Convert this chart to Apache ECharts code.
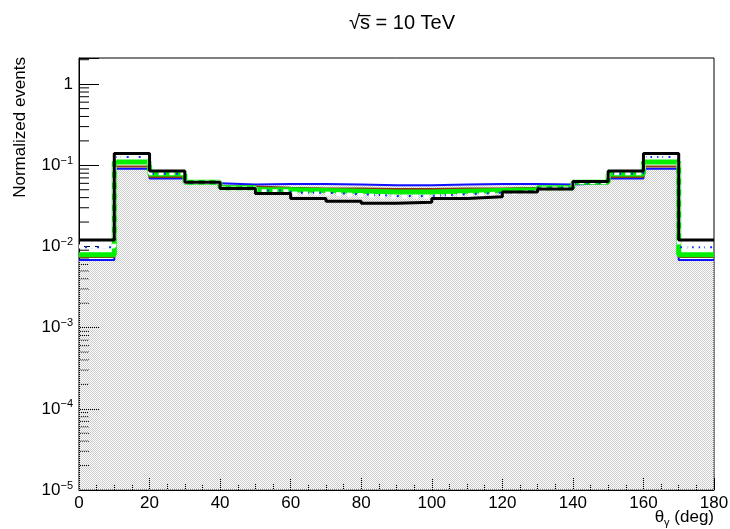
<!DOCTYPE html>
<html>
<head>
<meta charset="utf-8">
<script src="https://cdn.jsdelivr.net/npm/echarts@6/dist/echarts.min.js"></script>
<style>html,body{margin:0;padding:0;background:#fff;}#c{width:730px;height:529px;}</style>
</head>
<body>
<div id="c"></div>
<script>
// ---- data ----
const binLow = [0,10,20,30,40,50,60,70,80,90,100,110,120,130,140,150,160,170];
const binEnd = 180;
const blackVals = [0.012,0.14,0.085,0.062,0.052,0.045,0.039,0.036,0.034,0.035,0.039,0.041,0.047,0.051,0.063,0.085,0.14,0.012];
const fillVals  = [0.0068,0.091,0.069,0.060,0.058,0.059,0.059,0.058,0.057,0.057,0.058,0.059,0.059,0.058,0.060,0.069,0.091,0.0068];
const greenVals = [0.0079,0.11,0.078,0.062,0.053,0.050,0.049,0.048,0.047,0.047,0.048,0.049,0.050,0.053,0.062,0.078,0.11,0.0079];
const brownVals = [0.0074,0.097,0.072,0.061,0.055,0.053,0.052,0.052,0.051,0.051,0.052,0.052,0.053,0.055,0.061,0.072,0.097,0.0074];
const whiteVals = [0.010,0.13,0.080,0.062,0.052,0.048,0.045,0.043,0.041,0.041,0.043,0.045,0.047,0.052,0.062,0.080,0.13,0.010];
const dotVals   = [0.0098,0.127,0.079,0.061,0.053,0.049,0.046,0.044,0.042,0.042,0.044,0.046,0.048,0.053,0.061,0.079,0.127,0.0098];
const yMinorTicks = [2e-5,3e-5,4e-5,5e-5,6e-5,7e-5,8e-5,9e-5,
  2e-4,3e-4,4e-4,5e-4,6e-4,7e-4,8e-4,9e-4,
  2e-3,3e-3,4e-3,5e-3,6e-3,7e-3,8e-3,9e-3,
  2e-2,3e-2,4e-2,5e-2,6e-2,7e-2,8e-2,9e-2,
  0.2,0.3,0.4,0.5,0.6,0.7,0.8,0.9,2];
const titleText = '√s̅ = 10 TeV';
const yTitle = 'Normalized events';
const xTitle = 'θ{g|γ} (deg)';

function steps(vals){
  const d = binLow.map((x,i)=>[x, vals[i]]);
  d.push([binEnd, vals[vals.length-1]]);
  return d;
}

// hatch pattern
const pc = document.createElement('canvas');
pc.width = 2; pc.height = 2;
const pctx = pc.getContext('2d');
pctx.fillStyle = '#cacaca';
pctx.fillRect(0,0,1,1); pctx.fillRect(1,1,1,1);

const FONT = 'Liberation Sans';
const chart = echarts.init(document.getElementById('c'), null, {renderer:'canvas'});

function yLabel(v){
  const l = Math.log10(v);
  const e = Math.round(l);
  if (Math.abs(l - e) > 1e-6) return '';
  if (e === 0) return '1';
  return '10{s|' + (e < 0 ? '−' : '') + Math.abs(e) + '}';
}

chart.setOption({
  animation: false,
  backgroundColor: '#fff',
  title: {
    text: titleText, left: 397, top: 8, textAlign: 'center',
    textStyle: {fontFamily: FONT, fontSize: 20, fontWeight: 'normal', color: '#000'}
  },
  grid: {left: 79, right: 16, top: 58, bottom: 39, show: true, borderColor: '#000', borderWidth: 1,
    backgroundColor: 'transparent', containLabel: false, outerBoundsMode: 'none'},
  xAxis: {
    type: 'value', min: 0, max: 180, interval: 20,
    axisLine: {show: true, onZero: false, lineStyle: {color: '#000', width: 1}},
    axisTick: {show: true, inside: true, length: 12, lineStyle: {color: '#000'}},
    minorTick: {show: true, splitNumber: 4, length: 6, lineStyle: {color: '#000'}},
    splitLine: {show: false},
    axisLabel: {fontFamily: FONT, fontSize: 17, color: '#000', margin: 5}
  },
  yAxis: {
    type: 'log', logBase: 10, min: 1e-5, max: 2.1, interval: 1,
    axisLine: {show: true, lineStyle: {color: '#000', width: 1}},
    axisTick: {show: true, inside: true, length: 20, lineStyle: {color: '#000'}},
    splitLine: {show: false},
    axisLabel: {
      fontFamily: FONT, fontSize: 17, color: '#000', margin: 6,
      formatter: yLabel,
      rich: {s: {fontFamily: FONT, fontSize: 11, verticalAlign: 'top', padding: [0,0,9,0]}}
    }
  },
  graphic: [{
    type: 'text', x: 20, y: 57, rotation: Math.PI/2,
    style: {text: yTitle, font: '17px "' + FONT + '"', fill: '#000', align: 'right', verticalAlign: 'middle'}
  }, {
    type: 'text', x: 714, y: 507,
    style: {text: xTitle, fontFamily: FONT, fontSize: 17, fill: '#000', align: 'right', verticalAlign: 'top',
      rich: {g: {fontFamily: FONT, fontSize: 11, fill: '#000', verticalAlign: 'bottom', padding: [10,0,0,0]}}}
  }],
  series: [
    {
      type: 'custom', z: 1, silent: true,
      data: yMinorTicks.map(v => [0, v]),
      renderItem: function(params, api){
        const p = api.coord([0, api.value(1)]);
        return {type: 'line', shape: {x1: p[0], y1: p[1], x2: p[0] + 10, y2: p[1]}, style: {stroke: '#000', lineWidth: 1}};
      }
    },
    {
      type: 'line', step: 'end', data: steps(fillVals), symbol: 'none', z: 2,
      lineStyle: {color: '#1010ff', width: 2},
      areaStyle: {origin: 'start', color: {image: pc, repeat: 'repeat'}, opacity: 1}
    },
    {type: 'line', step: 'end', data: steps(brownVals), symbol: 'none', z: 2, lineStyle: {color: '#8b3a10', width: 2}},
    {type: 'line', step: 'end', data: steps(greenVals), symbol: 'none', z: 2, lineStyle: {color: '#00f000', width: 5}},
    {type: 'line', step: 'end', data: steps(dotVals), symbol: 'none', z: 2, lineStyle: {color: '#1030ff', width: 2, type: [2,4]}},
    {type: 'line', step: 'end', data: steps(whiteVals), symbol: 'none', z: 2, lineStyle: {color: '#ffffff', width: 4, type: [5,6]}},
    {type: 'line', step: 'end', data: steps(blackVals), symbol: 'none', z: 2, lineStyle: {color: '#000000', width: 3}}
  ]
});
</script>
</body>
</html>
